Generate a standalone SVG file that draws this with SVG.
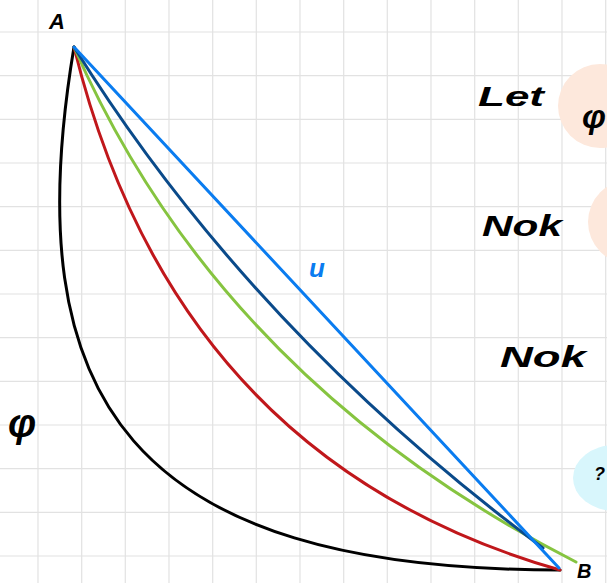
<svg xmlns="http://www.w3.org/2000/svg" width="607" height="583" viewBox="0 0 607 583">
<style>
.grid line{stroke:#e2e2e2;stroke-width:1.2}
.c{fill:none;stroke-width:3;stroke-linecap:round}
.t{font-family:"Liberation Sans",sans-serif;font-style:italic;font-weight:bold;fill:#000}
</style>
<rect width="607" height="583" fill="#fff"/>
<g class="grid">
<line x1="38" y1="0" x2="38" y2="583"/><line x1="81.7" y1="0" x2="81.7" y2="583"/><line x1="125.3" y1="0" x2="125.3" y2="583"/><line x1="169" y1="0" x2="169" y2="583"/><line x1="212.7" y1="0" x2="212.7" y2="583"/><line x1="256.3" y1="0" x2="256.3" y2="583"/><line x1="300" y1="0" x2="300" y2="583"/><line x1="343.7" y1="0" x2="343.7" y2="583"/><line x1="387.3" y1="0" x2="387.3" y2="583"/><line x1="431" y1="0" x2="431" y2="583"/><line x1="474.7" y1="0" x2="474.7" y2="583"/><line x1="518.3" y1="0" x2="518.3" y2="583"/><line x1="562" y1="0" x2="562" y2="583"/><line x1="605.7" y1="0" x2="605.7" y2="583"/>
<line x1="0" y1="32" x2="607" y2="32"/><line x1="0" y1="75.7" x2="607" y2="75.7"/><line x1="0" y1="119.3" x2="607" y2="119.3"/><line x1="0" y1="163" x2="607" y2="163"/><line x1="0" y1="206.7" x2="607" y2="206.7"/><line x1="0" y1="250.3" x2="607" y2="250.3"/><line x1="0" y1="294" x2="607" y2="294"/><line x1="0" y1="337.7" x2="607" y2="337.7"/><line x1="0" y1="381.3" x2="607" y2="381.3"/><line x1="0" y1="425" x2="607" y2="425"/><line x1="0" y1="468.7" x2="607" y2="468.7"/><line x1="0" y1="512.3" x2="607" y2="512.3"/><line x1="0" y1="556" x2="607" y2="556"/>
</g>
<g id="blobs">
<circle cx="600" cy="106" r="42" fill="#fde8dc"/>
<circle cx="630" cy="222" r="42" fill="#fde8dc"/>
<ellipse cx="615" cy="478" rx="42" ry="33" fill="#d8f6fc"/>
</g>
<g id="connectors">
<path class="c" stroke="#000" d="M74,47 C15,400 130,570 560,570"/>
<path class="c" stroke="#c0171b" d="M74,47 Q175,460 560,570"/>
<path class="c" stroke="#86c440" d="M74,47 Q220,380 576,562"/>
<path class="c" stroke="#0a4a8a" d="M74,47 Q250,330 543,548"/>
<path class="c" stroke="#0a7cf0" d="M74,47 L559,568"/>
</g>
<g id="labels">
<text class="t" x="49" y="29" font-size="22">A</text>
<text class="t" x="577" y="578" font-size="20">B</text>
<text class="t" x="478" y="106" font-size="28" textLength="66" lengthAdjust="spacingAndGlyphs">Let</text>
<text class="t" x="582" y="128" font-size="34">φ</text>
<text class="t" x="482" y="236" font-size="30" textLength="80" lengthAdjust="spacingAndGlyphs">Nok</text>
<text class="t" x="500" y="367" font-size="30" textLength="86" lengthAdjust="spacingAndGlyphs">Nok</text>
<text class="t" x="8" y="437" font-size="40" font-weight="normal">φ</text>
<text class="t" x="309" y="277" font-size="26" style="fill:#0a7cf0">u</text>
<text class="t" x="594" y="480" font-size="18">?</text>
</g>
</svg>
